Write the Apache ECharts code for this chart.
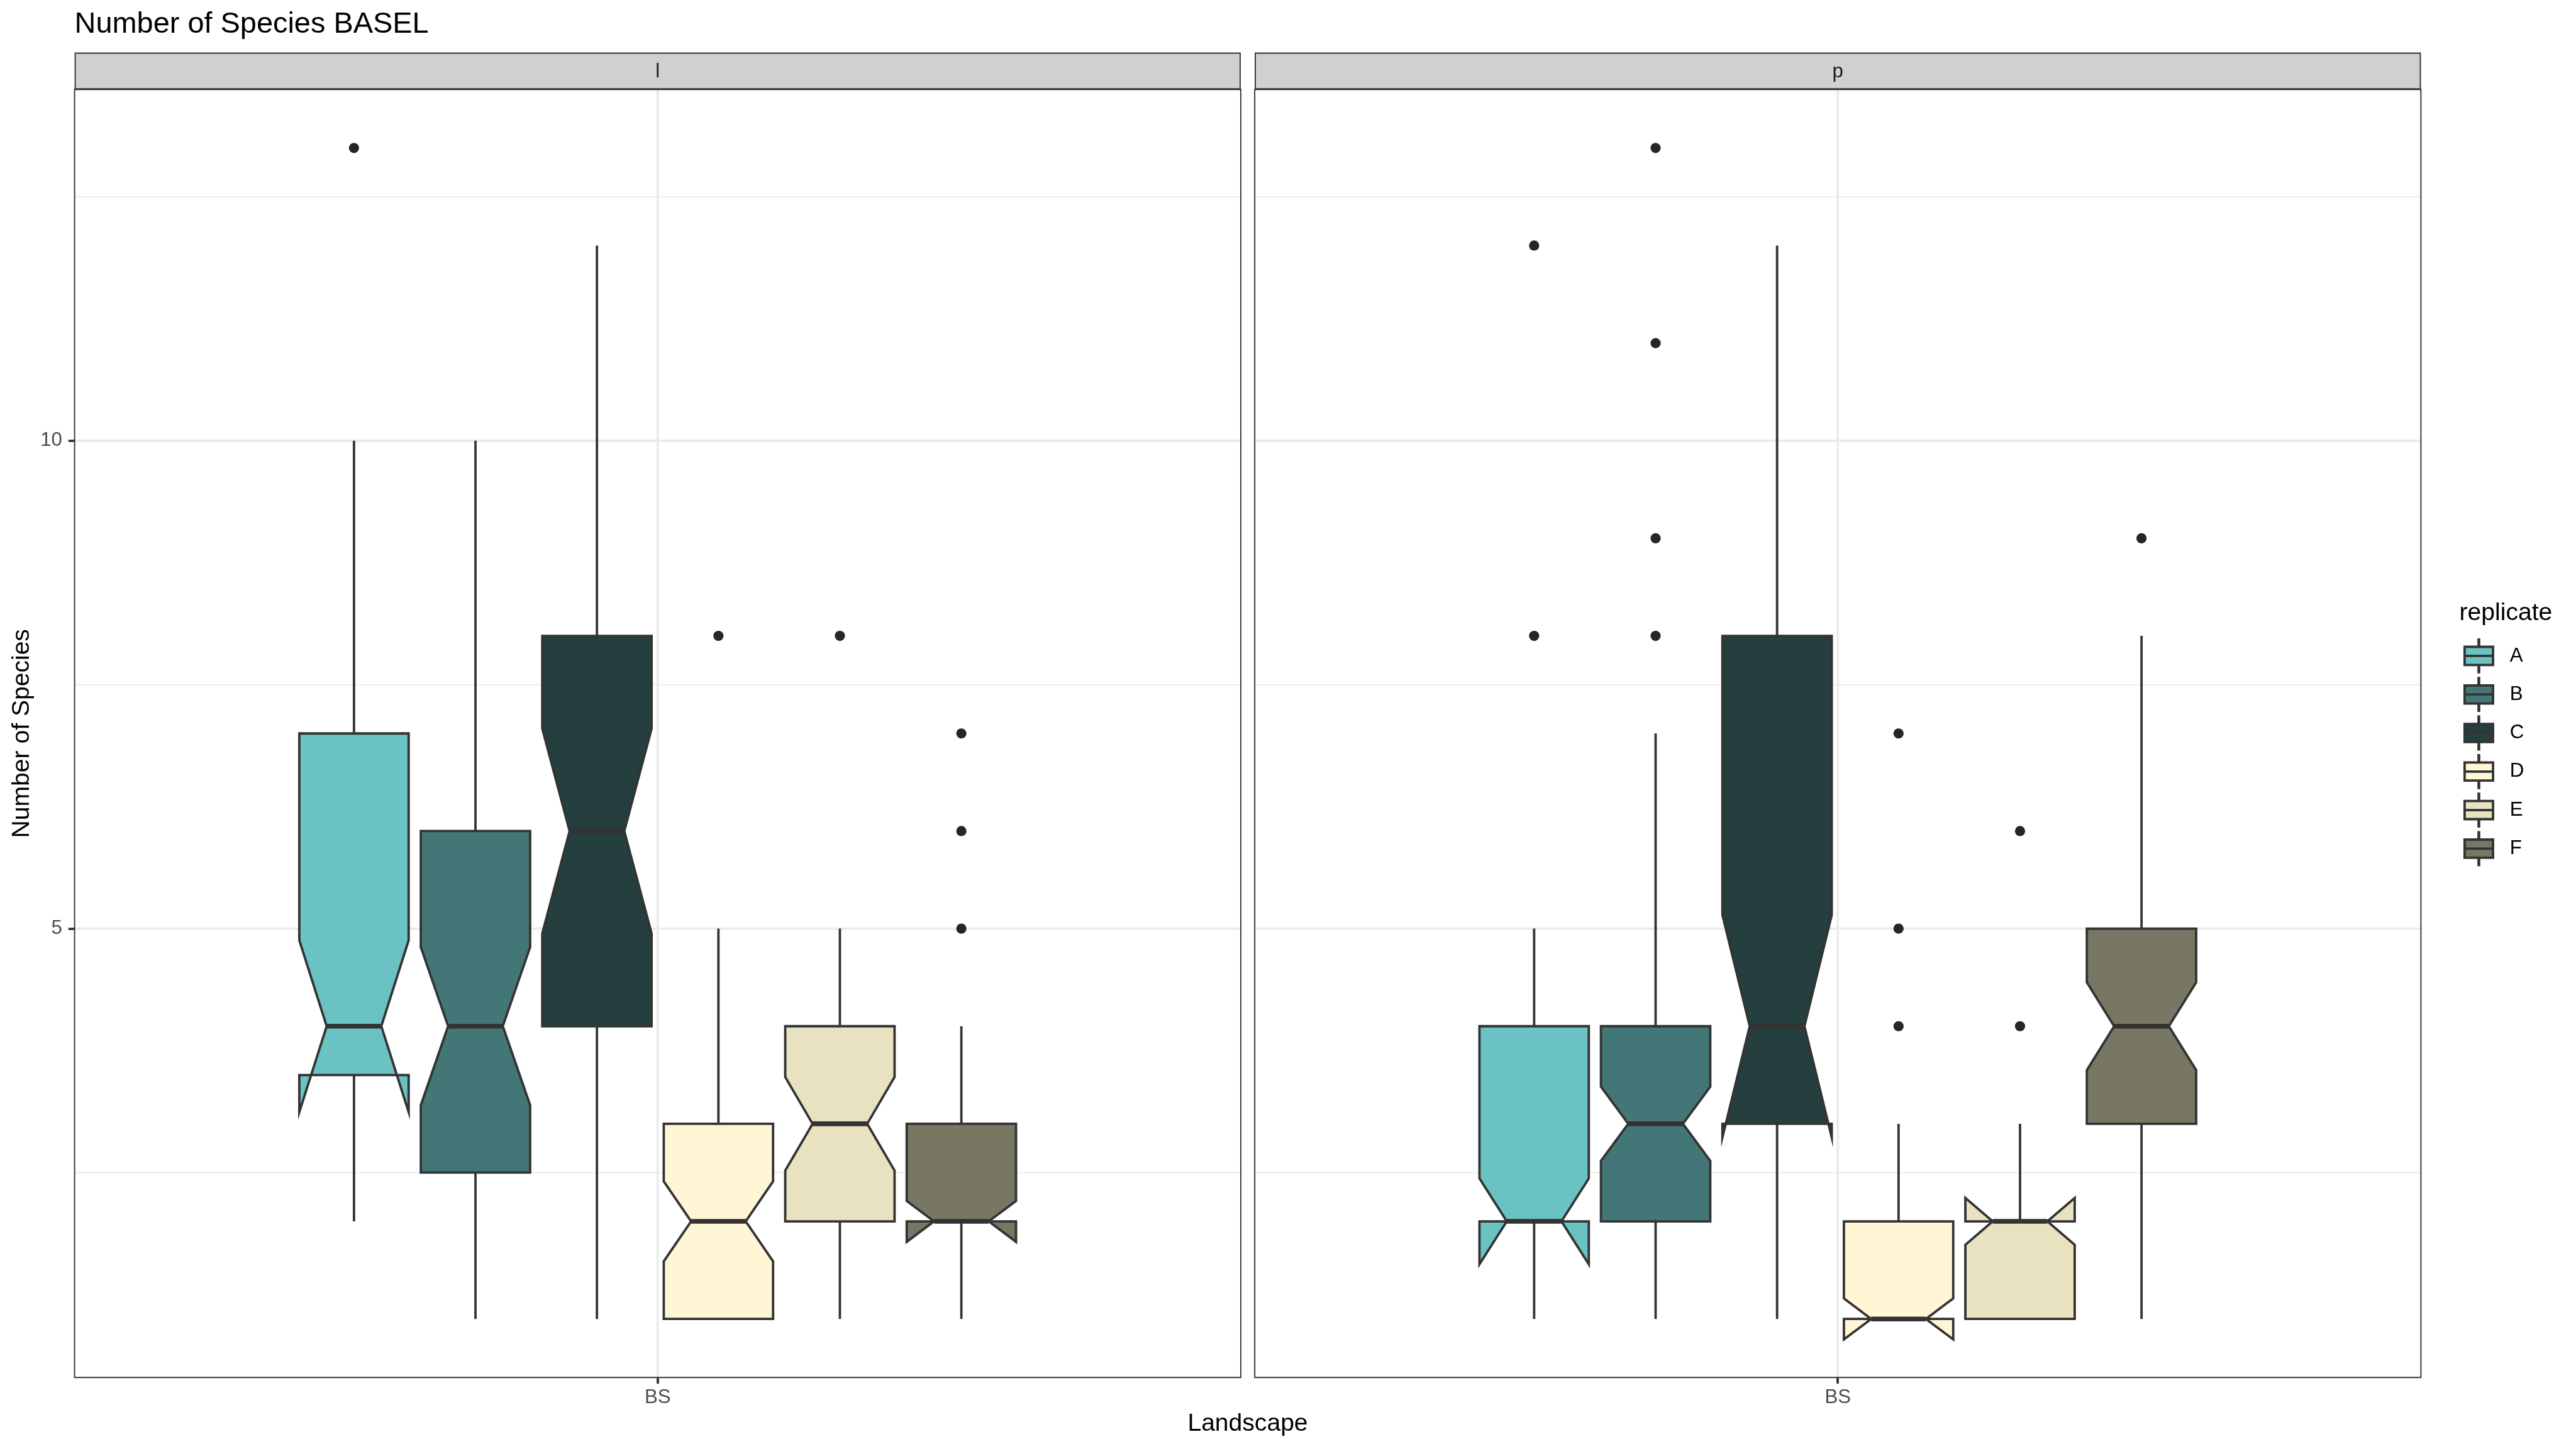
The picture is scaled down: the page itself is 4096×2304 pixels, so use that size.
<!DOCTYPE html>
<html>
<head>
<meta charset="utf-8">
<script src="https://cdn.jsdelivr.net/npm/echarts@6/dist/echarts.min.js"></script>
<style>
html,body{margin:0;padding:0;background:#fff;}
#chart{width:4096px;height:2304px;}
</style>
</head>
<body>
<div id="chart"></div>
<script>
// ---------------- data ----------------
const replicates = ['A', 'B', 'C', 'D', 'E', 'F'];
const panels = ['l', 'p'];
const landscapes = ['BS'];
const fillColors = ['#6AC3C2', '#437777', '#253E3E', '#FFF6D6', '#E8E2C1', '#787764'];
const yTickValues = [5, 10];
const yMinorGrid = [2.5, 7.5, 12.5];

// panel "l"
const lLower = [2, 1, 1, 1, 1, 1];
const lQ1 = [3.5, 2.5, 4, 1, 2, 2];
const lMedian = [4, 4, 6, 2, 3, 2];
const lQ3 = [7, 6, 8, 3, 4, 3];
const lUpper = [10, 10, 12, 5, 5, 4];
const lNotchLow = [3.12, 3.19, 4.95, 1.59, 2.52, 1.79];
const lNotchHigh = [4.88, 4.81, 7.05, 2.41, 3.48, 2.21];
const lOutliers = [[13], [], [], [8], [8], [7, 6, 5]];

// panel "p"
const pLower = [1, 1, 1, 1, 1, 1];
const pQ1 = [2, 2, 3, 1, 1, 3];
const pMedian = [2, 3, 4, 1, 2, 4];
const pQ3 = [4, 4, 8, 2, 2, 5];
const pUpper = [5, 7, 12, 3, 3, 8];
const pNotchLow = [1.56, 2.62, 2.86, 0.79, 1.76, 3.55];
const pNotchHigh = [2.44, 3.38, 5.14, 1.21, 2.24, 4.45];
const pOutliers = [[12, 8], [13, 11, 9, 8], [], [7, 5, 4], [6, 4], [9]];

// ---------------- layout / style ----------------
const FONT = "'Liberation Sans', Arial, Helvetica, sans-serif";
const GRID_TOP = 142.2, GRID_H = 2048.1, GRID_W = 1854.3;
const GRID_LEFT = [118.6, 1995.1];
const STRIP_TOP = 83.6, STRIP_H = 58.6;
const EDGE = '#333333';
const GRIDC = '#EBEBEB';
const LW = 3.8;           // box / whisker line width
const MED_LW = 7.6;       // median line width
const X_MIN = 0.4, X_MAX = 1.6, Y_MIN = 0.4, Y_MAX = 13.6;
const DODGE = 0.75;
const nRep = replicates.length;
const slot = DODGE / nRep;
const halfW = slot * 0.9 / 2;
function xCenter(i) { return 1 + (i - (nRep - 1) / 2) * slot; }

const panelData = [
  {lower: lLower, q1: lQ1, med: lMedian, q3: lQ3, upper: lUpper, nl: lNotchLow, nu: lNotchHigh, out: lOutliers},
  {lower: pLower, q1: pQ1, med: pMedian, q3: pQ3, upper: pUpper, nl: pNotchLow, nu: pNotchHigh, out: pOutliers}
];

// ---------------- series ----------------
const series = [];

// grid lines
panels.forEach((pn, p) => {
  const gdata = [];
  yMinorGrid.forEach(v => gdata.push([0, v]));
  yTickValues.forEach(v => gdata.push([1, v]));
  gdata.push([2, 1]);
  series.push({
    type: 'custom', xAxisIndex: p, yAxisIndex: p, silent: true, z: 1,
    data: gdata,
    renderItem: function (params, api) {
      const kind = api.value(0), v = api.value(1);
      const cs = params.coordSys;
      let shape;
      if (kind === 2) {
        const x = api.coord([v, 5])[0];
        shape = {x1: x, y1: cs.y, x2: x, y2: cs.y + cs.height};
      } else {
        const y = api.coord([1, v])[1];
        shape = {x1: cs.x, y1: y, x2: cs.x + cs.width, y2: y};
      }
      return {type: 'line', shape: shape,
        style: {stroke: GRIDC, lineWidth: kind === 0 ? LW / 2 : LW, lineCap: 'butt'}};
    }
  });
});

// boxes
panels.forEach((pn, p) => {
  const d = panelData[p];
  replicates.forEach((r, i) => {
    series.push({
      type: 'custom', name: r, xAxisIndex: p, yAxisIndex: p, z: 3,
      itemStyle: {color: fillColors[i]},
      data: [[i, d.lower[i], d.q1[i], d.med[i], d.q3[i], d.upper[i], d.nl[i], d.nu[i]]],
      renderItem: function (params, api) {
        const idx = api.value(0);
        const lower = api.value(1), q1 = api.value(2), med = api.value(3),
              q3 = api.value(4), upper = api.value(5), nl = api.value(6), nu = api.value(7);
        const xc = xCenter(idx);
        const xmin = xc - halfW, xmax = xc + halfW;
        const ind = (xmax - xmin) * 0.25;
        const P = (x, y) => api.coord([x, y]);
        const pts = [
          P(xmin, q3), P(xmin, nu), P(xmin + ind, med), P(xmin, nl), P(xmin, q1),
          P(xmax, q1), P(xmax, nl), P(xmax - ind, med), P(xmax, nu), P(xmax, q3)
        ];
        const wTop1 = P(xc, q3), wTop2 = P(xc, upper);
        const wBot1 = P(xc, q1), wBot2 = P(xc, lower);
        const m1 = P(xmin + ind, med), m2 = P(xmax - ind, med);
        return {
          type: 'group',
          children: [
            {type: 'line', shape: {x1: wTop1[0], y1: wTop1[1], x2: wTop2[0], y2: wTop2[1]},
              style: {stroke: EDGE, lineWidth: LW, lineCap: 'butt'}},
            {type: 'line', shape: {x1: wBot1[0], y1: wBot1[1], x2: wBot2[0], y2: wBot2[1]},
              style: {stroke: EDGE, lineWidth: LW, lineCap: 'butt'}},
            {type: 'polygon', shape: {points: pts},
              style: {fill: fillColors[idx], stroke: EDGE, lineWidth: LW, lineJoin: 'miter', miterLimit: 10}},
            {type: 'line', shape: {x1: m1[0], y1: m1[1], x2: m2[0], y2: m2[1]},
              style: {stroke: EDGE, lineWidth: MED_LW, lineCap: 'butt'}}
          ]
        };
      }
    });
  });
});

// outliers
panels.forEach((pn, p) => {
  const d = panelData[p];
  const pts = [];
  d.out.forEach((vals, i) => vals.forEach(v => pts.push([xCenter(i), v])));
  series.push({
    type: 'scatter', xAxisIndex: p, yAxisIndex: p, z: 4, silent: true,
    symbol: 'circle', symbolSize: 16.2,
    itemStyle: {color: '#262626', opacity: 1},
    data: pts
  });
});

// ---------------- axes / grids ----------------
const grids = panels.map((pn, p) => ({
  left: GRID_LEFT[p], top: GRID_TOP, width: GRID_W, height: GRID_H,
  show: true, borderColor: EDGE, borderWidth: 1.9, backgroundColor: 'transparent', z: 10
}));

const xAxes = panels.map((pn, p) => ({
  type: 'value', gridIndex: p, min: X_MIN, max: X_MAX,
  axisLine: {show: false},
  splitLine: {show: false},
  axisTick: {show: true, customValues: [1], length: 9.8, lineStyle: {color: EDGE, width: LW}},
  axisLabel: {show: true, customValues: [1], formatter: () => landscapes[0], margin: 16.7,
    color: '#4D4D4D', fontSize: 31.3, fontFamily: FONT}
}));

const yAxes = panels.map((pn, p) => ({
  type: 'value', gridIndex: p, min: Y_MIN, max: Y_MAX,
  axisLine: {show: false},
  splitLine: {show: false},
  axisTick: {show: p === 0, customValues: yTickValues, length: 9.8, lineStyle: {color: EDGE, width: LW}},
  axisLabel: {show: p === 0, customValues: yTickValues, margin: 19.6,
    color: '#4D4D4D', fontSize: 31.3, fontFamily: FONT}
}));

// ---------------- graphics (strips, axis titles, legend title) ----------------
const graphics = [];
panels.forEach((pn, p) => {
  graphics.push({
    type: 'rect', silent: true, z: 5,
    shape: {x: GRID_LEFT[p] + 0.95, y: STRIP_TOP + 0.95, width: GRID_W - 1.9, height: STRIP_H - 1.9},
    style: {fill: '#D0D0D0', stroke: EDGE, lineWidth: 1.9}
  });
  graphics.push({
    type: 'text', silent: true, z: 6,
    x: GRID_LEFT[p] + GRID_W / 2, y: 114,
    style: {text: pn, fontSize: 31.3, fontFamily: FONT, fill: '#1A1A1A', align: 'center', verticalAlign: 'middle'}
  });
});
graphics.push({
  type: 'text', silent: true,
  x: (GRID_LEFT[0] + GRID_LEFT[1] + GRID_W) / 2, y: 2264.6,
  style: {text: 'Landscape', fontSize: 39.1, fontFamily: FONT, fill: '#000', align: 'center', verticalAlign: 'middle'}
});
graphics.push({
  type: 'text', silent: true,
  x: 34.8, y: GRID_TOP + GRID_H / 2, rotation: Math.PI / 2,
  style: {text: 'Number of Species', fontSize: 39.1, fontFamily: FONT, fill: '#000', align: 'center', verticalAlign: 'middle'}
});
graphics.push({
  type: 'text', silent: true,
  x: 3910.6, y: 975.2,
  style: {text: 'replicate', fontSize: 39.1, fontFamily: FONT, fill: '#000', align: 'left', verticalAlign: 'middle'}
});

// legend key icon: whisker + two half boxes (median line)
const keyIcon = 'path://M0,13.6L53,13.6L53,30.5L0,30.5Z M0,30.5L53,30.5L53,47.4L0,47.4Z M26,0L27,0L27,13.6L26,13.6Z M26,47.4L27,47.4L27,61L26,61Z';

const option = {
  backgroundColor: '#ffffff',
  animation: false,
  title: {
    text: 'Number of Species BASEL', left: 118.6, top: 15.3, padding: 0,
    textStyle: {fontSize: 46.9, fontWeight: 'normal', color: '#000', fontFamily: FONT}
  },
  legend: {
    orient: 'vertical', left: 3917, top: 1015, padding: 0,
    itemWidth: 45.5, itemHeight: 52, itemGap: 5.5,
    icon: keyIcon, selectedMode: false,
    data: replicates,
    itemStyle: {borderColor: EDGE, borderWidth: LW},
    textStyle: {fontSize: 31.3, color: '#000', fontFamily: FONT, padding: [0, 0, 0, 21.5]}
  },
  grid: grids,
  xAxis: xAxes,
  yAxis: yAxes,
  graphic: graphics,
  series: series
};

const chart = echarts.init(document.getElementById('chart'), null, {renderer: 'canvas'});
chart.setOption(option);
</script>
</body>
</html>
